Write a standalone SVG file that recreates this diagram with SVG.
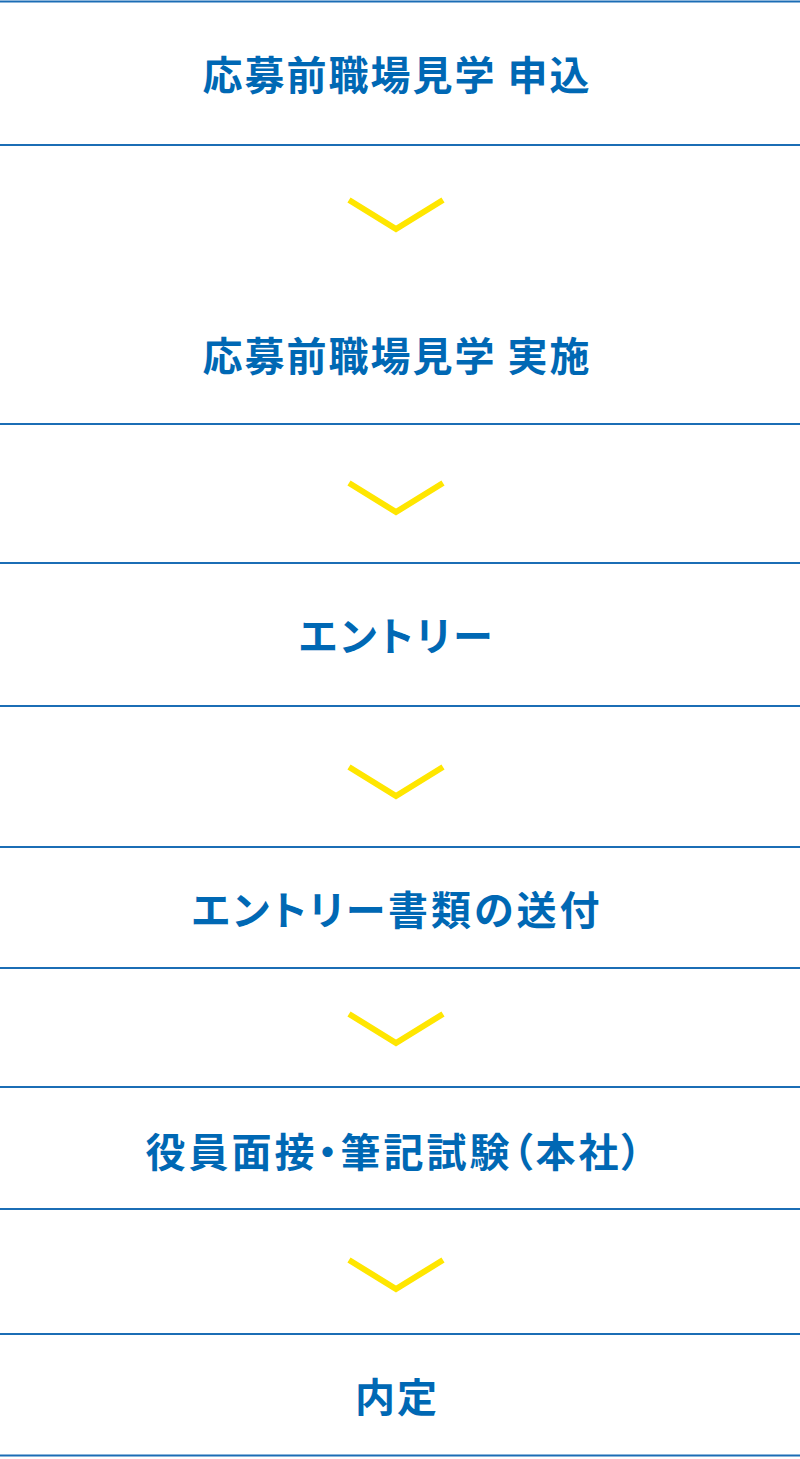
<svg xmlns="http://www.w3.org/2000/svg" width="800" height="1459" viewBox="0 0 800 1459">
<style>
.bg{fill:#ffffff}
.sep{stroke:#1b6db5;stroke-width:2;fill:none}
.chev{stroke:#ffe600;stroke-width:6;fill:none;stroke-linejoin:miter;stroke-linecap:butt}
.lbl{font-family:"Noto Sans CJK JP","Noto Sans",sans-serif;font-weight:bold;font-size:40px;fill:#0068b4;text-anchor:middle;letter-spacing:2px}
.palt{font-feature-settings:"palt" 1;letter-spacing:3px}
</style>
<rect class="bg" x="0" y="0" width="800" height="1459"/>
<g id="node1">
<line class="sep" x1="0" y1="1.5" x2="800" y2="1.5"/>
<line class="sep" x1="0" y1="145" x2="800" y2="145"/>
<text class="lbl" x="397" y="90">応募前職場見学 申込</text>
</g>
<g id="node2">
<line class="sep" x1="0" y1="424" x2="800" y2="424"/>
<text class="lbl" x="397" y="371">応募前職場見学 実施</text>
</g>
<g id="node3">
<line class="sep" x1="0" y1="563" x2="800" y2="563"/>
<line class="sep" x1="0" y1="706" x2="800" y2="706"/>
<text class="lbl palt" x="397" y="651">エントリー</text>
</g>
<g id="node4">
<line class="sep" x1="0" y1="847" x2="800" y2="847"/>
<line class="sep" x1="0" y1="968" x2="800" y2="968"/>
<text class="lbl palt" x="397" y="925">エントリー書類の送付</text>
</g>
<g id="node5">
<line class="sep" x1="0" y1="1087" x2="800" y2="1087"/>
<line class="sep" x1="0" y1="1209" x2="800" y2="1209"/>
<text class="lbl palt" x="395" y="1167">役員面接・筆記試験（本社）</text>
</g>
<g id="node6">
<line class="sep" x1="0" y1="1334" x2="800" y2="1334"/>
<line class="sep" x1="0" y1="1455.5" x2="800" y2="1455.5"/>
<text class="lbl" x="397" y="1412">内定</text>
</g>
<g id="connectors">
<polyline class="chev" points="349,200 396,229 443,200"/>
<polyline class="chev" points="349,483 396,512 443,483"/>
<polyline class="chev" points="349,767 396,796 443,767"/>
<polyline class="chev" points="349,1014 396,1043 443,1014"/>
<polyline class="chev" points="349,1260 396,1289 443,1260"/>
</g>
</svg>
